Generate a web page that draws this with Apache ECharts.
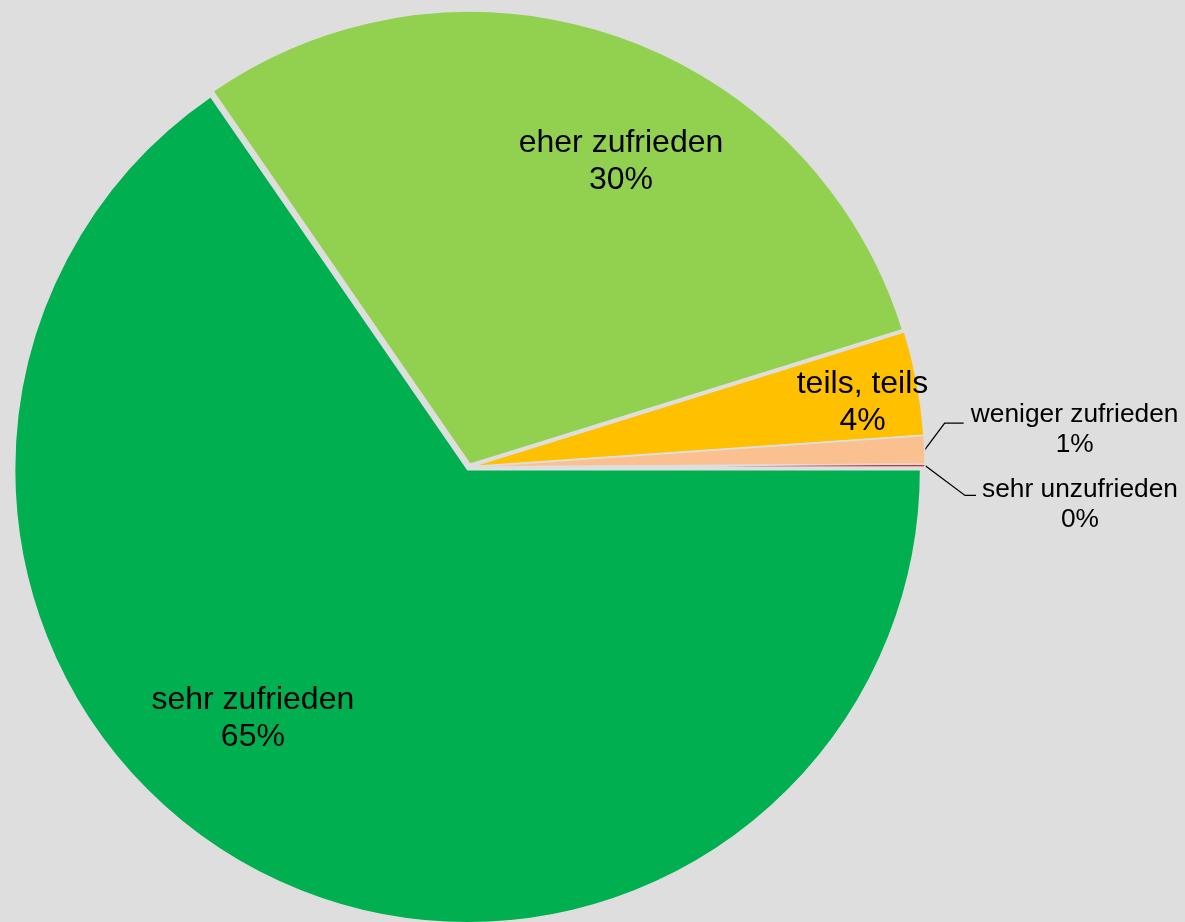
<!DOCTYPE html>
<html>
<head>
<meta charset="utf-8">
<script src="https://cdn.jsdelivr.net/npm/echarts@6/dist/echarts.min.js"></script>
<style>
html,body{margin:0;padding:0;background:#DEDEDE;}
#chart{width:1185px;height:922px;}
</style>
</head>
<body>
<div id="chart"></div>
<script>
const categories = ['sehr zufrieden', 'eher zufrieden', 'teils, teils', 'weniger zufrieden', 'sehr unzufrieden'];
const values = [65.4, 29.8, 3.7, 1.0, 0.1];
const percentLabels = ['65%', '30%', '4%', '1%', '0%'];
const colors = ['#00B050', '#92D050', '#FFC000', '#FAC090', '#C00000'];

const font = '"Liberation Sans", Arial, sans-serif';
// label nudges (relative to ECharts' default label placement)
const labelShift = [[-108, 46], [76, -86], [165, -21], [0, -26], [0, 30]];

const data = categories.map((name, i) => {
  const item = { name: name, value: values[i], selected: true, itemStyle: { color: colors[i] } };
  if (i < 3) {
    item.label = {
      position: 'inside',
      fontSize: 32,
      lineHeight: 37,
      formatter: name + '\n' + percentLabels[i]
    };
  } else {
    item.label = {
      position: 'outside',
      fontSize: 26,
      lineHeight: 30,
      width: i === 3 ? 212 : 198,
      padding: i === 3 ? [14, 0, 0, 0] : [18, 0, 0, 0],
      formatter: '{c|' + name + '}\n{c|' + percentLabels[i] + '}',
      rich: { c: { align: 'center', fontSize: 26.3, lineHeight: 30, color: '#000', fontFamily: font } }
    };
    item.labelLine = i === 3 ? { length: 20, length2: 19 } : { length: 40, length2: 11 };
  }
  return item;
});

const chart = echarts.init(document.getElementById('chart'), null, { renderer: 'canvas' });
chart.setOption({
  backgroundColor: '#DEDEDE',
  animation: false,
  series: [{
    type: 'pie',
    center: [469, 467],
    radius: 453,
    startAngle: 0,
    clockwise: true,
    selectedMode: 'multiple',
    selectedOffset: 3,
    avoidLabelOverlap: false,
    itemStyle: { borderColor: '#DEDEDE', borderWidth: 1.5 },
    select: { itemStyle: { borderColor: '#DEDEDE', borderWidth: 1.5 } },
    emphasis: { disabled: true },
    label: { color: '#000', fontFamily: font, fontSize: 32 },
    labelLine: { lineStyle: { color: '#000', width: 1.3 }, smooth: false },
    labelLayout: function (params) {
      const s = labelShift[params.dataIndex];
      const res = { dx: s[0], dy: s[1] };
      const p = params.labelLinePoints;
      if (params.dataIndex >= 3 && p && p.length === 3) {
        res.labelLinePoints = [
          [p[0][0], p[0][1]],
          [p[1][0], p[1][1] + s[1]],
          [p[2][0], p[2][1] + s[1]]
        ];
      }
      return res;
    },
    data: data
  }]
});
</script>
</body>
</html>
